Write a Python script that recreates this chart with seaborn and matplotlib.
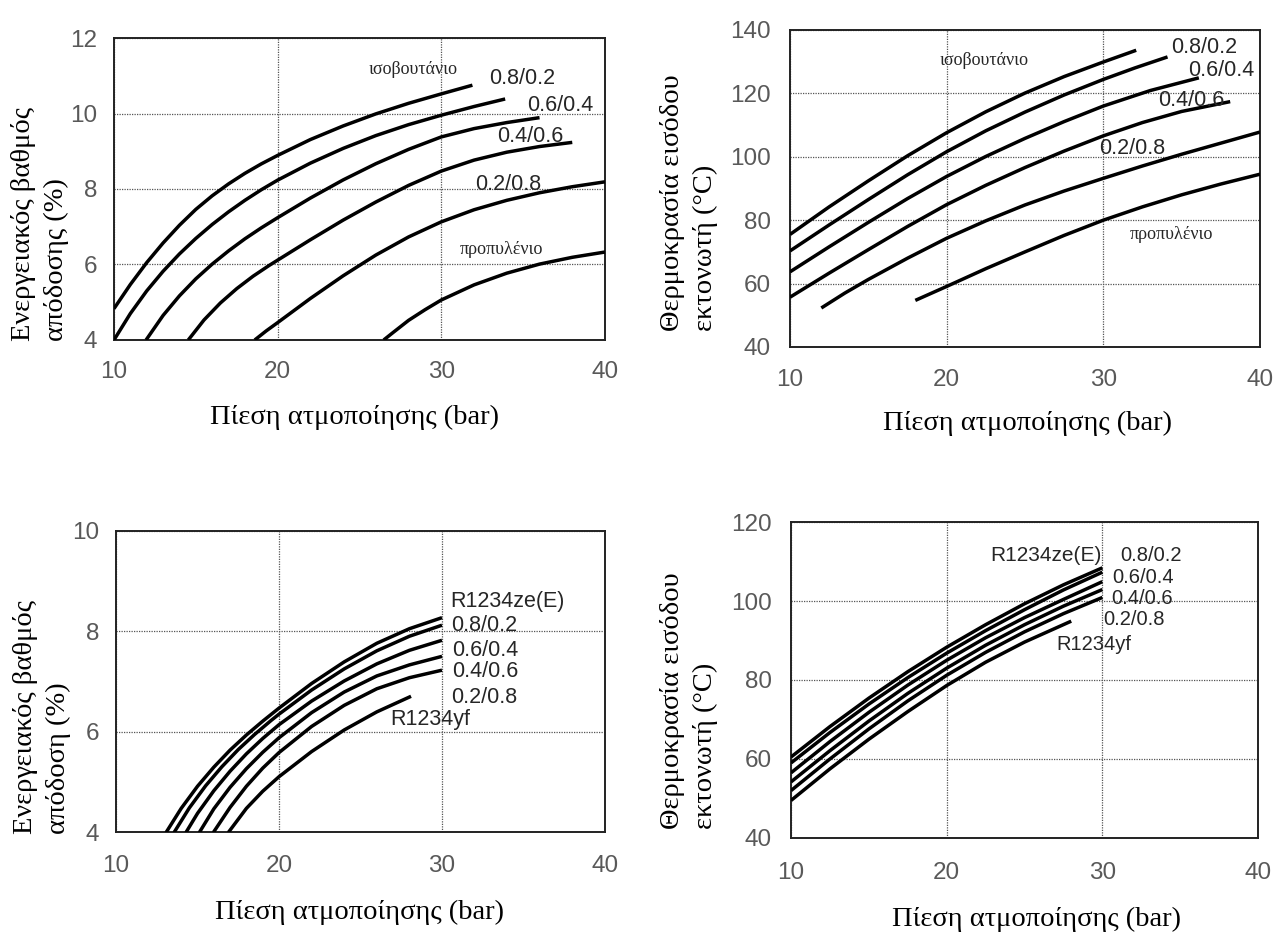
import numpy as np
import pandas as pd
import matplotlib
matplotlib.use("Agg")
import matplotlib.pyplot as plt
import seaborn as sns

sns.set_theme(style="white")
plt.rcParams["font.family"] = ["Liberation Sans", "DejaVu Sans"]

# ---------------- data ----------------
# Panel A: energy efficiency (%), isobutane / propylene mixtures
A_iso_p = [10, 11, 12, 13, 14, 15, 16, 17, 18, 19, 20, 22, 24, 26, 28, 30, 31.9]
A_iso_e = [4.83, 5.47, 6.05, 6.57, 7.04, 7.46, 7.82, 8.135, 8.415, 8.665, 8.89, 9.31, 9.67, 9.99, 10.27, 10.52, 10.75]
A_82_p = [10, 11, 12, 13, 14, 15, 16, 17, 18, 19, 20, 22, 24, 26, 28, 30, 32, 33.9]
A_82_e = [4.0, 4.70, 5.30, 5.82, 6.28, 6.69, 7.06, 7.395, 7.70, 7.98, 8.235, 8.685, 9.075, 9.415, 9.705, 9.955, 10.185, 10.385]
A_64_p = [11.96, 13, 14, 15, 16, 17, 18, 19, 20, 22, 24, 26, 28, 30, 32, 34, 36]
A_64_e = [4.0, 4.65, 5.17, 5.62, 6.01, 6.36, 6.68, 6.97, 7.24, 7.76, 8.24, 8.67, 9.05, 9.38, 9.60, 9.76, 9.89]
A_46_p = [14.54, 15.5, 16.5, 17.5, 18.5, 19.5, 20, 22, 24, 26, 28, 30, 32, 34, 36, 38]
A_46_e = [4.0, 4.53, 4.98, 5.36, 5.69, 5.98, 6.115, 6.655, 7.175, 7.655, 8.095, 8.475, 8.765, 8.975, 9.125, 9.235]
A_28_p = [18.6, 19.3, 20, 22, 24, 26, 28, 30, 32, 34, 36, 38, 40]
A_28_e = [4.0, 4.24, 4.46, 5.10, 5.70, 6.25, 6.73, 7.13, 7.45, 7.70, 7.90, 8.06, 8.19]
A_pro_p = [26.48, 27, 28, 29, 30, 32, 34, 36, 38, 40]
A_pro_e = [4.0, 4.18, 4.52, 4.80, 5.06, 5.46, 5.77, 6.01, 6.19, 6.33]

# Panel B: expander inlet temperature (°C), isobutane / propylene mixtures
B_iso_p = [10, 12.5, 15, 17.5, 20, 22.5, 25, 27.5, 30, 32.1]
B_iso_t = [75.5, 84.2, 92.4, 100.3, 107.6, 114.2, 120.1, 125.3, 129.9, 133.6]
B_82_p = [10, 12.5, 15, 17.5, 20, 22.5, 25, 27.5, 30, 32, 34.1]
B_82_t = [70.3, 78.5, 86.5, 94.3, 101.6, 108.2, 114.1, 119.5, 124.4, 128.0, 131.5]
B_64_p = [10, 12.5, 15, 17.5, 20, 22.5, 25, 27.5, 30, 33, 36.1]
B_64_t = [63.7, 71.6, 79.3, 86.8, 93.8, 100.1, 105.8, 111.1, 116.0, 120.9, 124.9]
B_46_p = [10, 12.5, 15, 17.5, 20, 22.5, 25, 27.5, 30, 32.5, 35, 38.1]
B_46_t = [55.7, 63.3, 70.7, 78.0, 84.9, 91.0, 96.6, 101.8, 106.6, 110.8, 114.3, 117.4]
B_28_p = [12, 13.5, 15, 17.5, 20, 22.5, 25, 27.5, 30, 32.5, 35, 37.5, 40]
B_28_t = [52.3, 57.0, 61.3, 68.0, 74.3, 79.8, 84.8, 89.2, 93.2, 97.1, 100.8, 104.3, 107.8]
B_pro_p = [18, 20, 22.5, 25, 27.5, 30, 32.5, 35, 37.5, 40]
B_pro_t = [54.7, 59.1, 64.7, 70.0, 75.2, 80.0, 84.2, 88.0, 91.4, 94.5]

# Panel C: energy efficiency (%), R1234ze(E) / R1234yf mixtures
C_ze_p = [13.07, 14, 15, 16, 17, 18, 19, 20, 22, 24, 26, 28, 30]
C_ze_e = [4.0, 4.48, 4.92, 5.30, 5.64, 5.94, 6.215, 6.475, 6.965, 7.395, 7.765, 8.055, 8.275]
C_82_p = [13.56, 14.5, 15.5, 16.5, 17.5, 18.5, 19.5, 20, 22, 24, 26, 28, 30]
C_82_e = [4.0, 4.49, 4.93, 5.31, 5.65, 5.95, 6.225, 6.355, 6.835, 7.255, 7.615, 7.905, 8.125]
C_64_p = [14.29, 15, 16, 17, 18, 19, 20, 22, 24, 26, 28, 30]
C_64_e = [4.0, 4.38, 4.83, 5.22, 5.565, 5.87, 6.145, 6.615, 7.015, 7.355, 7.625, 7.825]
C_46_p = [15.11, 16, 17, 18, 19, 20, 22, 24, 26, 28, 30]
C_46_e = [4.0, 4.47, 4.90, 5.27, 5.595, 5.885, 6.385, 6.795, 7.115, 7.335, 7.505]
C_28_p = [15.97, 17, 18, 19, 20, 22, 24, 26, 28, 30]
C_28_e = [4.0, 4.50, 4.92, 5.28, 5.59, 6.11, 6.53, 6.86, 7.08, 7.23]
C_yf_p = [16.89, 18, 19, 20, 22, 24, 26, 28.1]
C_yf_e = [4.0, 4.48, 4.82, 5.11, 5.61, 6.04, 6.40, 6.71]

# Panel D: expander inlet temperature (°C), R1234ze(E) / R1234yf mixtures
D_p = [10, 12.5, 15, 17.5, 20, 22.5, 25, 27.5, 30]
D_ze_t = [60.5, 68.2, 75.4, 82.1, 88.3, 94.0, 99.3, 104.1, 108.4]
D_82_t = [59.0, 66.7, 73.9, 80.6, 86.8, 92.5, 97.8, 102.8, 107.3]
D_64_t = [56.5, 64.4, 71.8, 78.7, 85.0, 90.7, 95.8, 100.4, 104.9]
D_46_t = [54.2, 62.1, 69.6, 76.6, 83.0, 88.8, 94.0, 98.7, 102.9]
D_28_t = [52.0, 60.0, 67.6, 74.7, 81.2, 87.0, 92.2, 96.8, 100.9]
D_yf_p = [10, 12.5, 15, 17.5, 20, 22.5, 25, 28]
D_yf_t = [49.5, 57.5, 65.0, 72.0, 78.6, 84.5, 89.6, 94.9]

# axis text
x_title = "Πίεση ατμοποίησης (bar)"
yA_title = "Ενεργειακός βαθμός\nαπόδοσης (%)"
yB_title = "Θερμοκρασία εισόδου\nεκτονωτή (°C)"
yC_title = "Ενεργειακός βαθμός\nαπόδοση (%)"
yD_title = "Θερμοκρασία εισόδου\nεκτονωτή (°C)"
x_ticks = [10, 20, 30, 40]
yA_ticks = [4, 6, 8, 10, 12]
yB_ticks = [40, 60, 80, 100, 120, 140]
yC_ticks = [4, 6, 8, 10]
yD_ticks = [40, 60, 80, 100, 120]

# curve annotations: (text, x, y, serif?)
A_labels = [("ισοβουτάνιο", 25.56, 11.17, True), ("0.8/0.2", 32.95, 10.93, False),
            ("0.6/0.4", 35.23, 10.22, False), ("0.4/0.6", 33.44, 9.40, False),
            ("0.2/0.8", 32.08, 8.13, False), ("προπυλένιο", 31.12, 6.40, True)]
B_labels = [("ισοβουτάνιο", 19.57, 130.4, True), ("0.8/0.2", 34.36, 134.6, False),
            ("0.6/0.4", 35.43, 127.3, False), ("0.4/0.6", 33.5, 117.9, False),
            ("0.2/0.8", 29.72, 102.6, False), ("προπυλένιο", 31.7, 75.5, True)]
C_labels = [("R1234ze(E)", 30.5, 8.59, False), ("0.8/0.2", 30.55, 8.11, False),
            ("0.6/0.4", 30.6, 7.63, False), ("0.4/0.6", 30.6, 7.21, False),
            ("0.2/0.8", 30.55, 6.68, False), ("R1234yf", 26.8, 6.24, False)]
D_labels = [("0.8/0.2", 31.18, 111.6, False), ("0.6/0.4", 30.64, 106.0, False),
            ("0.4/0.6", 30.58, 100.7, False), ("0.2/0.8", 30.06, 95.3, False),
            ("R1234yf", 27.07, 89.0, False)]
D_ze_label = ("R1234ze(E)", 29.95, 111.6)

# ---------------- styling ----------------
sans = ["Liberation Sans", "DejaVu Sans"]
serif = ["Liberation Serif", "DejaVu Serif"]
tick_size = 17.5
sans_size = 15.5
tick_color = "#595959"

fig = plt.figure(figsize=(12.75, 9.34), dpi=100)
axA = fig.add_axes([0.0894, 0.6360, 0.3851, 0.3233])
axB = fig.add_axes([0.6196, 0.6285, 0.3686, 0.3394])
axC = fig.add_axes([0.0910, 0.1087, 0.3835, 0.3228])
axD = fig.add_axes([0.6204, 0.1028, 0.3663, 0.3383])


def curves_df(pairs):
    frames = []
    for i, (px, py) in enumerate(pairs):
        frames.append(pd.DataFrame({"p": px, "v": py, "curve": f"c{i}"}))
    return pd.concat(frames, ignore_index=True)


def draw(ax, pairs, ylim, yticks, ytitle, labels, ypad, xpad, ylab_x, ylab_y, xlab_y, xlab_x,
         lab_size=sans_size):
    df = curves_df(pairs)
    n = df["curve"].nunique()
    sns.lineplot(data=df, x="p", y="v", hue="curve", palette=["black"] * n,
                 legend=False, sort=False, estimator=None, lw=2.5, ax=ax,
                 solid_capstyle="butt", solid_joinstyle="round", zorder=3)
    ax.set_xlim(10, 40)
    ax.set_ylim(*ylim)
    ax.set_xticks(x_ticks)
    ax.set_yticks(yticks)
    ax.grid(True, color="#555555", lw=0.9, ls=(0, (1, 1)))
    for s in ax.spines.values():
        s.set_visible(True)
        s.set_color("#222222")
        s.set_linewidth(1.4)
    ax.tick_params(axis="both", length=0, labelsize=tick_size, labelcolor=tick_color)
    ax.tick_params(axis="y", pad=ypad)
    ax.tick_params(axis="x", pad=xpad)
    ax.set_xlabel(x_title, fontsize=20.5, family=serif, color="black")
    ax.xaxis.set_label_coords(xlab_x, xlab_y)
    ax.set_ylabel("")
    ax.text(ylab_x, ylab_y, ytitle, transform=ax.transAxes, rotation=90,
            ha="center", va="bottom", multialignment="left", fontsize=20.5,
            family=serif, linespacing=1.4, color="black")
    for txt, x, y, is_serif in labels:
        if is_serif:
            ax.text(x, y, txt, ha="left", va="center", fontsize=13, family=serif, zorder=4)
        else:
            ax.text(x, y, txt, ha="left", va="center", fontsize=lab_size,
                    family=sans, zorder=4)


draw(axA, [(A_iso_p, A_iso_e), (A_82_p, A_82_e), (A_64_p, A_64_e), (A_46_p, A_46_e),
           (A_28_p, A_28_e), (A_pro_p, A_pro_e)],
     (4, 12), yA_ticks, yA_title, A_labels, 12, 15, -0.15, -0.005, -0.215, 0.49)
draw(axB, [(B_iso_p, B_iso_t), (B_82_p, B_82_t), (B_64_p, B_64_t), (B_46_p, B_46_t),
           (B_28_p, B_28_t), (B_pro_p, B_pro_t)],
     (40, 140), yB_ticks, yB_title, B_labels, 14, 16, -0.215, 0.05, -0.2, 0.506)
draw(axC, [(C_ze_p, C_ze_e), (C_82_p, C_82_e), (C_64_p, C_64_e), (C_46_p, C_46_e),
           (C_28_p, C_28_e), (C_yf_p, C_yf_e)],
     (4, 10), yC_ticks, yC_title, C_labels, 12, 16, -0.152, -0.005, -0.222, 0.497)
draw(axD, [(D_p, D_ze_t), (D_p, D_82_t), (D_p, D_64_t), (D_p, D_46_t),
           (D_p, D_28_t), (D_yf_p, D_yf_t)],
     (40, 120), yD_ticks, yD_title, D_labels, 14, 17, -0.218, 0.03, -0.218, 0.525,
     lab_size=14.5)
axD.text(D_ze_label[1], D_ze_label[2], D_ze_label[0], ha="right", va="center",
         fontsize=15, family=sans, zorder=4)

fig.savefig("out.png", dpi=100)
